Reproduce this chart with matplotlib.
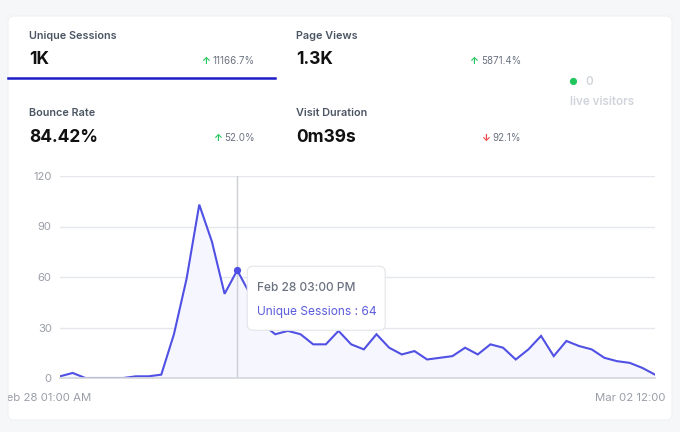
import matplotlib
matplotlib.use("Agg")
import matplotlib.pyplot as plt
from matplotlib.patches import FancyBboxPatch
from matplotlib.transforms import IdentityTransform, ScaledTranslation, Bbox

plt.rcParams['font.family'] = ['Inter', 'DejaVu Sans']

# hourly unique sessions, Feb 28 01:00 AM -> Mar 02 12:00 AM
sessions = [1, 3, 0, 0, 0, 0, 1, 1, 2, 26, 59, 103, 81, 50, 64, 50,
            32, 26, 28, 26, 20, 20, 28, 20, 17, 26, 18, 14, 16, 11, 12, 13,
            18, 14, 20, 18, 11, 17, 25, 13, 22, 19, 17, 12, 10, 9, 6, 2]
x_labels = ["Feb 28 01:00 AM", "Mar 02 12:00 AM"]
y_ticks = [0, 30, 60, 90, 120]
hover_idx = 14
hover_label = "Feb 28 03:00 PM"
series_name = "Unique Sessions"

metric_names = ["Unique Sessions", "Page Views", "Bounce Rate", "Visit Duration"]
metric_values = ["1K", "1.3K", "84.42%", "0m39s"]
metric_changes = ["11166.7%", "5871.4%", "52.0%", "92.1%"]
metric_up = [True, True, True, False]
live_visitors = 0

W, H = 680, 432
fig = plt.figure(figsize=(W / 100, H / 100), dpi=100)
fig.patch.set_facecolor('#f6f7f9')


def fx(px):
    return px / W


def fy(py):
    return 1 - py / H


# card
card = FancyBboxPatch((8, H - 420), 664, 404, boxstyle='round,pad=0,rounding_size=6',
                      transform=IdentityTransform(), fc='white', ec='#eceef1', lw=0.6,
                      zorder=-5)
fig.patches.append(card)

# selected tab underline
fig.add_artist(plt.Line2D([fx(8), fx(275)], [fy(78), fy(78)], transform=fig.transFigure,
                          color='#1c1cc8', lw=1.8))

col_x = [29, 296, 29, 296]
name_y = [36, 36, 113, 113]
val_y = [60, 60, 137, 137]
chg_x = [255, 521, 255, 521]

renderer = fig.canvas.get_renderer()
for i in range(4):
    fig.text(fx(col_x[i]), fy(name_y[i]), metric_names[i], fontsize=7.8, fontweight='semibold',
             color='#4b5563', va='center', ha='left')
    fig.text(fx(col_x[i]), fy(val_y[i]), metric_values[i], fontsize=12.5, fontweight='bold',
             color='#111111', va='center', ha='left')
    t = fig.text(fx(chg_x[i]), fy(val_y[i] + 1), metric_changes[i], fontsize=7, color='#6b7280',
                 va='center', ha='right')
    bb = t.get_window_extent(renderer)
    arrow = '↑' if metric_up[i] else '↓'
    acol = '#22c55e' if metric_up[i] else '#ef4444'
    fig.text((bb.x0 - 3) / W, fy(val_y[i] + 1), arrow, fontsize=7, color=acol,
             va='center', ha='right', fontweight='bold')

# live visitors
fig.text(fx(573), fy(82), '●', fontsize=7, color='#22c55e', va='center', ha='center')
fig.text(fx(585), fy(82), str(live_visitors), fontsize=8.4, color='#d1d5db', va='center',
         ha='left', fontweight='semibold')
fig.text(fx(570), fy(102), 'live visitors', fontsize=8.4, color='#d1d5db', va='center',
         ha='left', fontweight='semibold')

# chart
ax = fig.add_axes([fx(60), fy(378), 595 / W, 202 / H])
ax.set_facecolor('none')
xs = list(range(len(sessions)))
line_color = '#5050e4'
ax.fill_between(xs, sessions, 0, color='#f6f6fe', lw=0)
ax.plot(xs, sessions, color=line_color, lw=1.5, solid_joinstyle='miter')
ax.set_xlim(0, len(sessions) - 1)
ax.set_ylim(0, 120)
ax.set_yticks(y_ticks)
ax.set_xticks([])
ax.grid(axis='y', color='#e5e7eb', lw=1)
ax.set_axisbelow(True)
for s in ['top', 'right', 'left']:
    ax.spines[s].set_visible(False)
ax.spines['bottom'].set_color('#d4d6db')
ax.spines['bottom'].set_linewidth(1.2)
ax.tick_params(axis='y', length=0, pad=6, labelsize=8.1, labelcolor='#9a9ea7')

clip = Bbox.from_extents(8, 0, 668, H)
offset = ScaledTranslation(-0.14, 0, fig.dpi_scale_trans)
for xi, lab in zip([0, len(sessions) - 1], x_labels):
    tt = ax.text(xi, -0.1, lab, transform=ax.get_xaxis_transform() + offset, ha='center',
                 va='center', fontsize=8.2, color='#9a9ea7', clip_on=True)
    tt.set_clip_box(clip)

# hover crosshair + marker
ax.axvline(hover_idx, color='#cdd0d5', lw=1, zorder=1)
ax.plot([hover_idx], [sessions[hover_idx]], 'o', ms=4.2, color=line_color, zorder=5)

# tooltip
px, py = ax.transData.transform((hover_idx, sessions[hover_idx]))
tip = FancyBboxPatch((px + 10, py - 60), 138, 64, boxstyle='round,pad=0,rounding_size=6',
                     transform=IdentityTransform(), fc='white', ec='#e3e5e9', lw=0.8, zorder=10)
fig.add_artist(tip)
fig.text((px + 20) / W, (py - 18) / H, hover_label, fontsize=8.6, fontweight='medium',
         color='#6b7280', va='center', ha='left', zorder=11)
fig.text((px + 20) / W, (py - 42) / H, f"{series_name} : {sessions[hover_idx]}", fontsize=8.6,
         color='#5b5bdc', va='center', ha='left', zorder=11)

fig.savefig('out.png', dpi=100, facecolor=fig.get_facecolor())
